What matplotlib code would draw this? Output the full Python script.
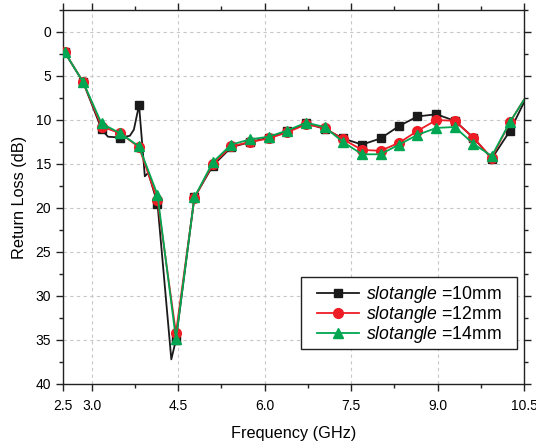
import matplotlib
matplotlib.use("Agg")
import matplotlib.pyplot as plt
from matplotlib.ticker import MultipleLocator, FixedLocator
from matplotlib.patches import Rectangle

plt.rcParams['font.family'] = ['Liberation Sans', 'DejaVu Sans']
plt.rcParams['mathtext.fontset'] = 'custom'
plt.rcParams['mathtext.it'] = 'Liberation Sans:italic'
plt.rcParams['mathtext.rm'] = 'Liberation Sans'

# Marker frequencies (GHz) shared by the three curves, plus end point 10.5
freq = [2.53, 2.85, 3.17, 3.49, 3.82, 4.14, 4.46, 4.78, 5.10, 5.42, 5.75,
        6.07, 6.39, 6.72, 7.04, 7.36, 7.69, 8.01, 8.33, 8.65, 8.98, 9.30,
        9.62, 9.94, 10.26, 10.5]

rl_12 = [2.3, 5.7, 10.75, 11.5, 13.1, 19.1, 34.2, 18.9, 15.0, 13.0, 12.5,
         12.1, 11.4, 10.5, 10.9, 12.2, 13.4, 13.5, 12.6, 11.25, 10.0, 10.1,
         12.0, 14.3, 10.2, 7.7]
rl_14 = [2.3, 5.7, 10.4, 11.5, 13.0, 18.5, 34.9, 18.8, 14.8, 12.8, 12.2,
         11.9, 11.2, 10.3, 10.8, 12.5, 13.9, 13.9, 12.8, 11.7, 10.9, 10.8,
         12.7, 14.1, 10.2, 7.7]

# 10 mm curve has extra (unmarked) samples around the resonance
freq_10 = [2.53, 2.85, 3.17, 3.28, 3.49, 3.66, 3.73, 3.82, 3.92, 3.98, 4.14,
           4.38, 4.46, 4.78, 5.10, 5.42, 5.75, 6.07, 6.39, 6.72, 7.04, 7.36,
           7.69, 8.01, 8.33, 8.65, 8.98, 9.30, 9.62, 9.94, 10.26, 10.5]
rl_10 = [2.3, 5.7, 11.05, 11.9, 12.0, 11.8, 11.1, 8.3, 16.4, 16.0, 19.5,
         37.2, 35.0, 18.8, 15.2, 13.1, 12.5, 12.0, 11.3, 10.4, 11.0, 12.1,
         12.8, 12.1, 10.7, 9.6, 9.35, 10.1, 12.0, 14.4, 11.2, 8.0]
mark_10 = [0, 1, 2, 4, 7, 10, 12, 13, 14, 15, 16, 17, 18, 19, 20, 21, 22,
           23, 24, 25, 26, 27, 28, 29, 30]

labels = [r"$\mathit{slotangle}$ =10mm", r"$\mathit{slotangle}$ =12mm",
          r"$\mathit{slotangle}$ =14mm"]
xticks = [2.5, 3.0, 4.5, 6.0, 7.5, 9.0, 10.5]
xtick_labels = ["2.5", "3.0", "4.5", "6.0", "7.5", "9.0", "10.5"]

fig = plt.figure(figsize=(5.36, 4.43), dpi=100)
ax = fig.add_axes([0.1175, 0.1332, 0.8601, 0.8443])

ax.plot(freq_10, rl_10, color='#1a1a1a', lw=1.3, marker='s', ms=6,
        markevery=mark_10, label=labels[0], zorder=3)
ax.plot(freq, rl_12, color='#ee1c25', lw=1.3, marker='o', ms=7,
        markevery=list(range(len(freq) - 1)), label=labels[1], zorder=4)
ax.plot(freq, rl_14, color='#00a651', lw=1.3, marker='^', ms=7.5,
        markevery=list(range(len(freq) - 1)), label=labels[2], zorder=5)

ax.set_xlim(2.5, 10.5)
ax.set_ylim(40, -2.5)
ax.xaxis.set_major_locator(FixedLocator(xticks))
ax.set_xticklabels(xtick_labels)
ax.xaxis.set_minor_locator(FixedLocator([3.75, 5.25, 6.75, 8.25, 9.75]))
ax.yaxis.set_major_locator(MultipleLocator(5))
ax.yaxis.set_minor_locator(MultipleLocator(2.5))

ax.tick_params(which='both', direction='out', top=True, right=True,
               labeltop=False, labelright=False, labelsize=10, color='#222222')
ax.tick_params(which='major', length=5, width=1)
ax.tick_params(axis='x', which='major', pad=6)
ax.tick_params(which='minor', length=3, width=1)
ax.grid(True, which='major', ls=(0, (3, 3)), color='#c8c8c8', lw=0.8)
for s in ax.spines.values():
    s.set_linewidth(1.0)
    s.set_color('#222222')

ax.set_xlabel("Frequency (GHz)", fontsize=11.7, labelpad=9)
ax.set_ylabel("Return Loss (dB)", fontsize=11.7, labelpad=6)

# legend frame box
ax.add_patch(Rectangle((0.516, 0.094), 0.469, 0.192, transform=ax.transAxes,
                       facecolor='white', edgecolor='#222222', lw=1.0,
                       zorder=9))
leg = ax.legend(loc='center', bbox_to_anchor=(0.7505, 0.185), fontsize=12.7,
                frameon=False, handlelength=2.4, handletextpad=0.4,
                borderpad=0, labelspacing=-0.05, borderaxespad=0)
leg.set_zorder(10)

fig.savefig("out.png", dpi=100)
